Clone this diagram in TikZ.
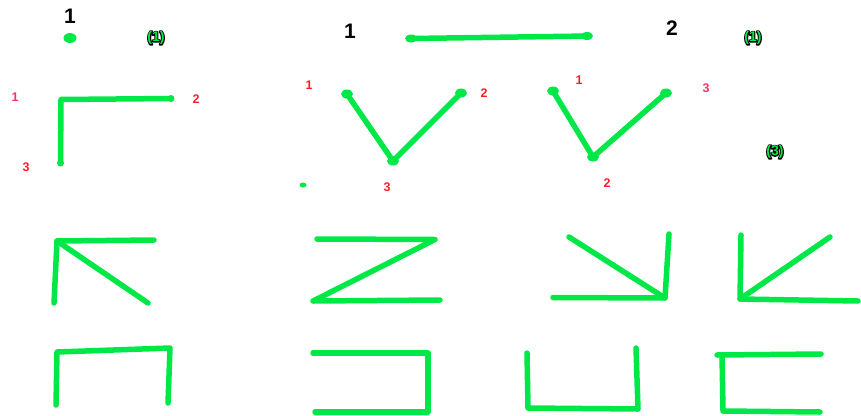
\documentclass[tikz,border=0pt]{standalone}
\usepackage{fontspec}
\setmainfont{Liberation Sans}
\definecolor{gr}{RGB}{0,232,72}
\definecolor{rd}{RGB}{255,30,40}
\definecolor{pk}{RGB}{255,50,100}
\tikzset{
  stroke/.style={draw=gr,line width=5.5pt,line cap=round,line join=round},
  bignum/.style={font=\bfseries\fontsize{21}{21}\selectfont,inner sep=0pt},
  smallnum/.style={font=\bfseries\fontsize{12.5}{12.5}\selectfont,inner sep=0pt},
  tagtxt/.style={font=\bfseries\fontsize{14}{14}\selectfont,inner sep=0pt,text=gr},
}
\newcommand{\strokedtext}[1]{\rlap{\special{pdf:literal direct 0 0 0 RG 2.2 w 1 j 2 Tr}#1\special{pdf:literal direct 0 Tr}}#1}
\begin{document}
\begin{tikzpicture}[x=1pt,y=-1pt]
\useasboundingbox (0,0) rectangle (861,415);
% top row
\node[bignum] (n1a) at (70,16) {1};
\fill[gr] (70,38) ellipse (6.5pt and 5pt);
\node[tagtxt] (t1) at (156,38) {\strokedtext{(1)}};
\node[bignum] (n1b) at (350,31) {1};
\draw[stroke] (411,38.5) -- (589,36);
\fill[gr] (411,38.5) ellipse (6pt and 4pt);
\fill[gr] (587,36) ellipse (6pt and 4pt);
\node[bignum] (n2b) at (672,28) {2};
\node[tagtxt] (t2) at (753,38) {\strokedtext{(1)}};
% second row
\node[smallnum,text=pk] (l1a) at (15,97) {1};
\node[smallnum,text=rd] (l2a) at (196,99) {2};
\node[smallnum,text=rd] (l3a) at (26,167) {3};
\draw[stroke] (171,98.5) -- (61,99.5) -- (60.5,163);
\fill[gr] (171,98.5) circle (3.5pt);
\fill[gr] (60.5,163) circle (3.5pt);
\node[smallnum,text=rd] (l1b) at (309,85) {1};
\node[smallnum,text=rd] (l2b) at (484,93) {2};
\node[smallnum,text=rd] (l3b) at (387,187) {3};
\draw[stroke] (347,94) -- (393,161) -- (461,93);
\fill[gr] (347,94) ellipse (6pt and 4.5pt);
\fill[gr] (461,93) ellipse (6pt and 4.5pt);
\fill[gr] (393,161) ellipse (6pt and 4.5pt);
\fill[gr] (303,185) ellipse (3.5pt and 2.5pt);
\node[smallnum,text=rd] (l1c) at (579,80) {1};
\node[smallnum,text=pk] (l3c) at (706,88) {3};
\node[smallnum,text=rd] (l2c) at (607,183) {2};
\draw[stroke] (553,91) -- (593,157) -- (666,93);
\fill[gr] (553,91) ellipse (6pt and 4.5pt);
\fill[gr] (666,93) ellipse (6pt and 4.5pt);
\fill[gr] (593,157) ellipse (6pt and 4.5pt);
\node[tagtxt] (t3) at (775,152) {\strokedtext{(3)}};
% third row
\draw[stroke] (154,240) -- (57,241) -- (54,303);
\draw[stroke] (57,241) -- (148,303);
\draw[stroke] (317,239) -- (435,239.5) -- (313,301) -- (440,300);
\draw[stroke] (569,237) -- (665,298) -- (553,297.5);
\draw[stroke] (665,298) -- (669,234);
\draw[stroke] (741,235) -- (740,299) -- (830,237);
\draw[stroke] (740,299) -- (858,301);
% bottom row
\draw[stroke] (56,405) -- (57,352) -- (170,348) -- (168,403);
\draw[stroke] (313,353) -- (428,353) -- (428,412) -- (315,412);
\draw[stroke] (527,353) -- (528,408) -- (638,409) -- (636,348);
\draw[stroke] (821,354) -- (717,355);
\draw[stroke] (722,355) -- (723,411) -- (820,412);
\end{tikzpicture}
\end{document}
